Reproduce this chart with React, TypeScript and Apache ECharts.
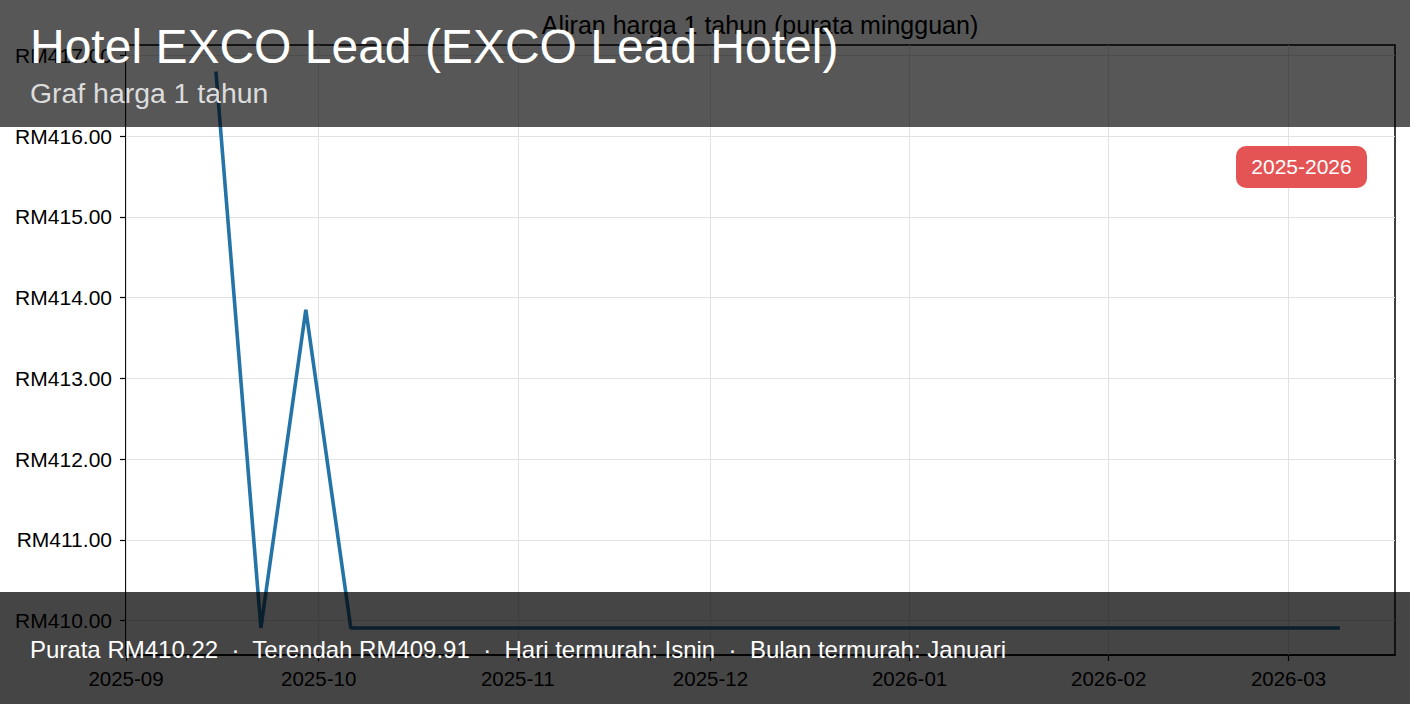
import React, { useEffect, useRef } from "react";
import * as echarts from "echarts";

const FONT = "'Liberation Sans', Arial, Helvetica, sans-serif";

const titleText = "Hotel EXCO Lead (EXCO Lead Hotel)";
const subtitleText = "Graf harga 1 tahun";
const chartTitle = "Aliran harga 1 tahun (purata mingguan)";
const footerText =
  "Purata RM410.22  ·  Terendah RM409.91  ·  Hari termurah: Isnin  ·  Bulan termurah: Januari";
const badgeText = "2025-2026";

const weekDates = [
  "2025-09-15", "2025-09-22", "2025-09-29", "2025-10-06", "2025-10-13",
  "2025-10-20", "2025-10-27", "2025-11-03", "2025-11-10", "2025-11-17",
  "2025-11-24", "2025-12-01", "2025-12-08", "2025-12-15", "2025-12-22",
  "2025-12-29", "2026-01-05", "2026-01-12", "2026-01-19", "2026-01-26",
  "2026-02-02", "2026-02-09", "2026-02-16", "2026-02-23", "2026-03-02",
  "2026-03-09",
];
const weeklyPrices = [
  416.8, 409.91, 413.85, 409.91, 409.91,
  409.91, 409.91, 409.91, 409.91, 409.91,
  409.91, 409.91, 409.91, 409.91, 409.91,
  409.91, 409.91, 409.91, 409.91, 409.91,
  409.91, 409.91, 409.91, 409.91, 409.91,
  409.91,
];
const yTicks = [410, 411, 412, 413, 414, 415, 416, 417];
const monthTicks = [
  "2025-09-01", "2025-10-01", "2025-11-01", "2025-12-01",
  "2026-01-01", "2026-02-01", "2026-03-01",
];
const xStart = "2025-09-01";
const xEnd = "2026-03-17T14:00";
const yMin = 409.575;
const yMax = 417.128;

function ts(s: string): number {
  const [d, t] = s.split("T");
  const [y, m, dd] = d.split("-").map(Number);
  let h = 0;
  let mi = 0;
  if (t) {
    const p = t.split(":").map(Number);
    h = p[0];
    mi = p[1] || 0;
  }
  return Date.UTC(y, m - 1, dd, h, mi);
}

function fmtMonth(v: number): string {
  const d = new Date(v + 12 * 3600 * 1000);
  const m = d.getUTCMonth() + 1;
  return d.getUTCFullYear() + "-" + (m < 10 ? "0" + m : "" + m);
}

export default function App() {
  const ref = useRef<HTMLDivElement>(null);

  useEffect(() => {
    if (!ref.current) return;
    const chart = echarts.init(ref.current, undefined, { renderer: "svg" });
    const monthTs = monthTicks.map(ts);
    const seriesData = weekDates.map((d, i) => [ts(d), weeklyPrices[i]]);

    const gridLineStyle = { color: "#e2e2e2", width: 1, type: "solid" as const };

    chart.setOption({
      animation: false,
      backgroundColor: "#ffffff",
      textStyle: { fontFamily: FONT },
      grid: {
        left: 126,
        right: 15,
        top: 45,
        bottom: 49,
        show: true,
        borderColor: "#000",
        borderWidth: 1.5,
        backgroundColor: "transparent",
      },
      xAxis: {
        type: "value",
        min: ts(xStart),
        max: ts(xEnd),
        axisLine: { show: true, lineStyle: { color: "#000", width: 1.5 } },
        axisTick: {
          show: true,
          length: 6,
          customValues: monthTs,
          lineStyle: { color: "#000", width: 1.2 },
        },
        axisLabel: {
          customValues: monthTs,
          formatter: (v: number) => fmtMonth(v),
          fontSize: 20.5,
          color: "#000",
          fontFamily: FONT,
          margin: 13,
          showMinLabel: true,
          showMaxLabel: true,
        },
        splitLine: { show: false },
      },
      yAxis: {
        type: "value",
        min: yMin,
        max: yMax,
        axisLine: { show: true, lineStyle: { color: "#000", width: 1.5 } },
        axisTick: {
          show: true,
          length: 6,
          customValues: yTicks,
          lineStyle: { color: "#000", width: 1.2 },
        },
        axisLabel: {
          customValues: yTicks,
          formatter: (v: number) => "RM" + v.toFixed(2),
          fontSize: 21,
          color: "#000",
          fontFamily: FONT,
          margin: 14,
        },
        splitLine: { show: false },
      },
      series: [
        {
          type: "line",
          data: seriesData,
          showSymbol: false,
          symbol: "none",
          lineStyle: { color: "#2474a8", width: 3.6 },
          z: 3,
          silent: true,
          markLine: {
            silent: true,
            z: 1,
            symbol: ["none", "none"],
            label: { show: false },
            emphasis: { disabled: true },
            lineStyle: gridLineStyle,
            data: [
              ...yTicks.map((v) => ({ yAxis: v, lineStyle: gridLineStyle })),
              ...monthTs.map((v) => ({ xAxis: v, lineStyle: gridLineStyle })),
            ],
          },
        },
      ],
      graphic: {
        elements: [
          {
            type: "text",
            x: 760,
            y: 25,
            z: 10,
            style: {
              text: chartTitle,
              fill: "#000",
              font: `25px ${FONT}`,
              align: "center",
              verticalAlign: "middle",
            },
          },
          {
            type: "rect",
            x: 0,
            y: 0,
            z: 100,
            shape: { x: 0, y: 0, width: 1410, height: 127 },
            style: { fill: "rgba(0,0,0,0.66)" },
          },
          {
            type: "text",
            x: 30,
            y: 46,
            z: 101,
            style: {
              text: titleText,
              fill: "#ffffff",
              font: `48px ${FONT}`,
              align: "left",
              verticalAlign: "middle",
            },
          },
          {
            type: "text",
            x: 30,
            y: 93,
            z: 101,
            style: {
              text: subtitleText,
              fill: "#dcdcdc",
              font: `28.4px ${FONT}`,
              align: "left",
              verticalAlign: "middle",
            },
          },
          {
            type: "rect",
            x: 0,
            y: 0,
            z: 100,
            shape: { x: 0, y: 592, width: 1410, height: 112 },
            style: { fill: "rgba(0,0,0,0.73)" },
          },
          {
            type: "text",
            x: 30,
            y: 649,
            z: 101,
            style: {
              text: footerText,
              fill: "#ffffff",
              font: `24px ${FONT}`,
              align: "left",
              verticalAlign: "middle",
            },
          },
          {
            type: "rect",
            x: 0,
            y: 0,
            z: 90,
            shape: { x: 1236, y: 146, width: 131, height: 42, r: 10 },
            style: { fill: "#e45454" },
          },
          {
            type: "text",
            x: 1301.5,
            y: 166,
            z: 91,
            style: {
              text: badgeText,
              fill: "#ffffff",
              font: `21px ${FONT}`,
              align: "center",
              verticalAlign: "middle",
            },
          },
        ],
      },
    });

    return () => {
      chart.dispose();
    };
  }, []);

  return (
    <div
      ref={ref}
      style={{ position: "fixed", left: 0, top: 0, width: 1410, height: 704 }}
    />
  );
}
